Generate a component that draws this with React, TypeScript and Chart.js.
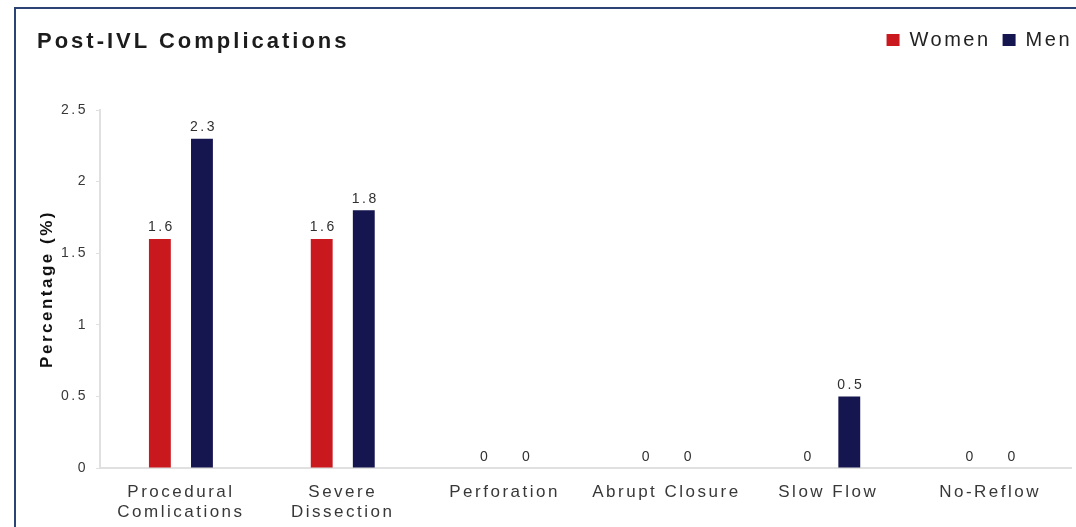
import { useEffect, useRef } from 'react';
import { Chart, registerables } from 'chart.js';

Chart.register(...registerables);

// Categories along the x axis (two-line labels are arrays)
const categories: (string | string[])[] = [
  ['Procedural', 'Comlications'],
  ['Severe', 'Dissection'],
  'Perforation',
  'Abrupt Closure',
  'Slow Flow',
  'No-Reflow',
];

// Series names and values (percent)
const seriesNames = ['Women', 'Men'];
const womenValues = [1.6, 1.6, 0, 0, 0, 0];
const menValues = [2.3, 1.8, 0, 0, 0.5, 0];
const seriesColors = ['#c9191e', '#15154f'];

// Value axis range and step of tick labels
const yMin = 0;
const yMax = 2.5;
const yStep = 0.5;

const WIDTH = 1076;
const HEIGHT = 527;
const FONT = '"Liberation Sans", Arial, Helvetica, sans-serif';
const SPACING = '2.5px';
const AXIS_COLOR = '#e0e0e0';
const LABEL_COLOR = '#383838';

// Keeps the spaced lettering on every canvas text
const spacedText = {
  id: 'spacedText',
  beforeUpdate(chart: any) {
    chart.ctx.letterSpacing = SPACING;
  },
  beforeDraw(chart: any) {
    chart.ctx.letterSpacing = SPACING;
  },
};

// Legend sits on the title row; reserve a taller band above the plot
const legendRow = {
  id: 'legendRow',
  beforeUpdate(chart: any) {
    const legend = chart.legend;
    if (legend && !legend._rowPatched) {
      const fit = legend.fit.bind(legend);
      legend.fit = () => {
        fit();
        if (legend.options.display) legend.height = 92;
      };
      legend._rowPatched = true;
    }
  },
  afterLayout(chart: any) {
    const legend = chart.legend;
    if (!legend) return;
    const shift = 13;
    legend.left += shift;
    legend.right += shift;
  },
};

// Value labels above each bar
const valueLabels = {
  id: 'valueLabels',
  afterDatasetsDraw(chart: any) {
    const { ctx } = chart;
    ctx.save();
    ctx.letterSpacing = SPACING;
    ctx.font = `14px ${FONT}`;
    ctx.fillStyle = '#303030';
    ctx.textAlign = 'center';
    ctx.textBaseline = 'alphabetic';
    chart.data.datasets.forEach((ds: any, i: number) => {
      const meta = chart.getDatasetMeta(i);
      meta.data.forEach((bar: any, j: number) => {
        ctx.fillText(String(ds.data[j]), bar.x + 1.5, bar.y - 7.5);
      });
    });
    ctx.restore();
  },
};

export default function App() {
  const canvasRef = useRef<HTMLCanvasElement | null>(null);

  useEffect(() => {
    const canvas = canvasRef.current;
    if (!canvas) return;
    const chart = new Chart(canvas, {
      type: 'bar',
      data: {
        labels: categories,
        datasets: [
          {
            label: seriesNames[0],
            data: womenValues,
            backgroundColor: seriesColors[0],
            borderWidth: 0,
          },
          {
            label: seriesNames[1],
            data: menValues,
            backgroundColor: seriesColors[1],
            borderWidth: 0,
          },
        ],
      },
      options: {
        responsive: false,
        animation: false,
        events: [],
        devicePixelRatio: 1,
        layout: { padding: { top: 18, right: 5, bottom: 0, left: 0 } },
        datasets: {
          bar: { categoryPercentage: 0.52, barPercentage: 0.52 },
        },
        plugins: {
          title: { display: false },
          tooltip: { enabled: false },
          legend: {
            display: true,
            position: 'top',
            align: 'end',
            labels: {
              boxWidth: 13,
              boxHeight: 12,
              padding: 12,
              color: '#222222',
              font: { size: 20, family: FONT },
            },
          },
        },
        scales: {
          x: {
            grid: { display: false },
            border: { display: true, color: AXIS_COLOR, width: 2 },
            ticks: {
              color: LABEL_COLOR,
              font: { size: 17, family: FONT },
              padding: 6,
              maxRotation: 0,
              autoSkip: false,
            },
            afterFit(scale: any) {
              scale.height = 59;
            },
          },
          y: {
            min: yMin,
            max: yMax,
            ticks: {
              stepSize: yStep,
              color: LABEL_COLOR,
              font: { size: 14, family: FONT },
              padding: 8,
              callback: (value: any) => String(Number(value)),
            },
            grid: {
              drawOnChartArea: false,
              drawTicks: true,
              tickLength: 4,
              color: AXIS_COLOR,
              lineWidth: 1,
            },
            border: { display: true, color: AXIS_COLOR, width: 2 },
            title: {
              display: true,
              text: 'Percentage (%)',
              color: '#111111',
              font: { size: 17, weight: 'bold', family: FONT },
              padding: { top: 37, bottom: 0 },
            },
            afterFit(scale: any) {
              scale.width = 100;
            },
          },
        },
      },
      plugins: [spacedText, legendRow, valueLabels],
    } as any);
    return () => chart.destroy();
  }, []);

  return (
    <div
      style={{
        position: 'fixed',
        left: 0,
        top: 0,
        width: WIDTH,
        height: HEIGHT,
        background: '#ffffff',
        overflow: 'hidden',
      }}
    >
      <canvas
        ref={canvasRef}
        width={WIDTH}
        height={HEIGHT}
        style={{ position: 'absolute', left: 0, top: 0, display: 'block' }}
      />
      <div
        style={{
          position: 'absolute',
          left: 14,
          top: 7,
          right: -10,
          bottom: -10,
          borderLeft: '2px solid #2c4374',
          borderTop: '2px solid #2c4374',
          pointerEvents: 'none',
        }}
      />
      <div
        style={{
          position: 'absolute',
          left: 37,
          top: 30,
          fontFamily: FONT,
          fontWeight: 'bold',
          fontSize: 22,
          lineHeight: '22px',
          letterSpacing: '3px',
          color: '#1c1c1c',
          whiteSpace: 'nowrap',
          pointerEvents: 'none',
        }}
      >
        Post-IVL Complications
      </div>
    </div>
  );
}
